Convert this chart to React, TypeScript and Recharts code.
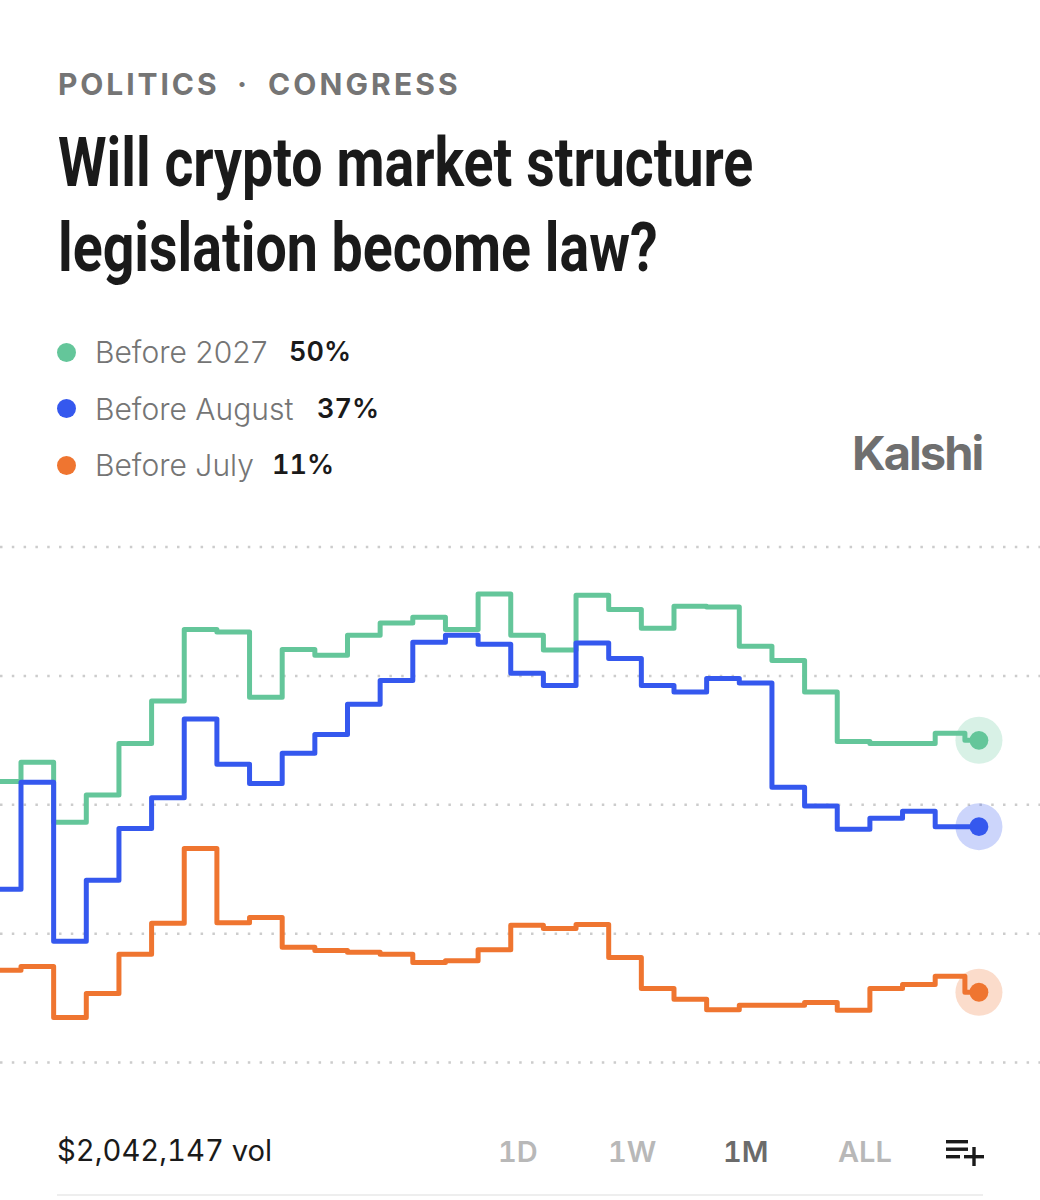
import React from 'react';
import { LineChart, Line, XAxis, YAxis, CartesianGrid, ReferenceDot } from 'recharts';

const GREEN = '#64C69A';
const BLUE = '#3558EE';
const ORANGE = '#EF7530';

const steps = [
  0, 1, 2, 3, 4, 5, 6, 7, 8, 9, 10, 11, 12, 13, 14, 15, 16, 17, 18, 19, 20, 21, 22, 23, 24, 25, 26, 27, 28, 29, 29.91, 30.34,
];
const before2027 = [
  43.6, 46.6, 37.3, 41.5, 49.5, 56.1, 67.2, 66.8, 56.7, 64.1, 63.2, 66.3, 68.2, 69.1, 67.2, 72.7, 66.3, 64.0, 72.5, 70.3,
  67.4, 70.8, 70.7, 64.6, 62.4, 57.5, 49.8, 49.5, 49.5, 51.1, 50.0, 50.0,
];
const beforeAugust = [
  26.9, 43.5, 18.8, 28.3, 36.3, 41.1, 53.3, 46.3, 43.3, 48.0, 50.9, 55.6, 59.3, 65.2, 66.3, 64.9, 60.4, 58.5, 65.1, 62.7,
  58.5, 57.5, 59.6, 58.9, 42.7, 39.8, 36.2, 37.9, 39.0, 36.6, 36.6, 36.6,
];
const beforeJuly = [
  14.3, 14.9, 7.0, 10.7, 16.8, 21.6, 33.2, 21.7, 22.5, 17.9, 17.4, 17.1, 16.8, 15.5, 15.8, 17.5, 21.3, 20.8, 21.4, 16.3,
  11.5, 9.8, 8.2, 8.9, 8.9, 9.3, 8.1, 11.5, 12.1, 13.4, 10.9, 10.9,
];
const gridValues = [0, 20, 40, 60, 80];
const rangeLabels = ['1D', '1W', '1M', 'ALL'];

const chartData = steps.map((step, i) => ({
  step,
  before2027: before2027[i],
  beforeAugust: beforeAugust[i],
  beforeJuly: beforeJuly[i],
}));

const legendItems = [
  { name: 'Before 2027', value: '50%', color: GREEN, top: 352, valueLeft: 289 },
  { name: 'Before August', value: '37%', color: BLUE, top: 408.5, valueLeft: 317 },
  { name: 'Before July', value: '11%', color: ORANGE, top: 465, valueLeft: 272 },
];
const rangeLefts = [498, 608, 723, 838];

const lastIndex = steps.length - 1;

const endDot = (color: string) => (props: any) =>
  props.index === lastIndex ? (
    <circle key={props.index} cx={props.cx} cy={props.cy} r={9.4} fill={color} />
  ) : (
    <g key={props.index} />
  );

const text = (top: number, left: number, extra: React.CSSProperties): React.CSSProperties => ({
  position: 'absolute',
  top,
  left,
  lineHeight: 1,
  whiteSpace: 'nowrap',
  ...extra,
});

const titleStyle: React.CSSProperties = {
  fontFamily: 'Roboto',
  fontSize: 68,
  fontWeight: 700,
  color: '#1a1a1a',
  transform: 'scaleX(0.816)',
  transformOrigin: 'left top',
};

export default function App() {
  return (
    <div style={{ position: 'absolute', top: 0, left: 0, width: 1040, height: 1200, background: '#fff', overflow: 'hidden', fontFamily: 'Inter', fontVariantNumeric: 'tabular-nums' }}>
      <div style={text(69, 58, { fontSize: 30, fontWeight: 700, color: '#757575', letterSpacing: 2.9 })}>
        POLITICS
      </div>
      <div style={text(69, 237, { fontSize: 30, fontWeight: 700, color: '#757575' })}>·</div>
      <div style={text(69, 268, { fontSize: 30, fontWeight: 700, color: '#757575', letterSpacing: 3.1 })}>
        CONGRESS
      </div>

      <div style={text(129, 58, titleStyle)}>Will crypto market structure</div>
      <div style={text(214, 58, titleStyle)}>legislation become law?</div>

      {legendItems.map((item) => (
        <React.Fragment key={item.name}>
          <div style={{ position: 'absolute', left: 56.5, top: item.top - 9.5, width: 19, height: 19, borderRadius: '50%', background: item.color }} />
          <div style={text(item.top - 15, 95, { fontSize: 30, fontWeight: 300, color: '#757575', fontVariantNumeric: 'normal' })}>{item.name}</div>
          <div style={text(item.top - 14, item.valueLeft, { fontSize: 27, fontWeight: 600, color: '#1a1a1a' })}>{item.value}</div>
        </React.Fragment>
      ))}

      <div style={text(429, 852, { fontSize: 47, fontWeight: 700, color: '#6f6f6f', letterSpacing: -2 })}>Kalshi</div>

      <div style={{ position: 'absolute', top: 527, left: 0 }}>
        <LineChart width={1040} height={555} data={chartData} margin={{ top: 20, right: 0, bottom: 19.5, left: 0 }}>
          <CartesianGrid
            vertical={false}
            horizontalValues={gridValues}
            stroke="#cccccc"
            strokeWidth={2.5}
            strokeDasharray="2.5 9.3"
          />
          <XAxis dataKey="step" type="number" domain={[0.357, 32.21]} allowDataOverflow hide />
          <YAxis type="number" domain={[0, 80]} ticks={gridValues} hide />
          <ReferenceDot x={30.34} y={50} r={23.5} fill={GREEN} fillOpacity={0.25} stroke="none" />
          <ReferenceDot x={30.34} y={36.6} r={23.5} fill={BLUE} fillOpacity={0.25} stroke="none" />
          <ReferenceDot x={30.34} y={10.9} r={23.5} fill={ORANGE} fillOpacity={0.25} stroke="none" />
          <Line dataKey="before2027" type="stepAfter" stroke={GREEN} strokeWidth={5} strokeLinejoin="round" dot={endDot(GREEN)} activeDot={false} isAnimationActive={false} />
          <Line dataKey="beforeAugust" type="stepAfter" stroke={BLUE} strokeWidth={5} strokeLinejoin="round" dot={endDot(BLUE)} activeDot={false} isAnimationActive={false} />
          <Line dataKey="beforeJuly" type="stepAfter" stroke={ORANGE} strokeWidth={5} strokeLinejoin="round" dot={endDot(ORANGE)} activeDot={false} isAnimationActive={false} />
        </LineChart>
      </div>

      <div style={text(1136, 57, { fontSize: 29.2, fontWeight: 400, color: '#1a1a1a' })}>$2,042,147 vol</div>
      {rangeLabels.map((label, i) => (
        <div key={label} style={text(1137, rangeLefts[i], { fontSize: 29, fontWeight: 600, color: label === '1M' ? '#6b6b6b' : '#b8b8b8' })}>
          {label}
        </div>
      ))}
      <svg width={42} height={30} style={{ position: 'absolute', left: 945, top: 1138 }}>
        <rect x={1} y={2} width={22} height={3.4} fill="#1a1a1a" />
        <rect x={1} y={9.5} width={22} height={3.4} fill="#1a1a1a" />
        <rect x={1} y={17} width={14} height={3.4} fill="#1a1a1a" />
        <rect x={19} y={17} width={20} height={3.4} fill="#1a1a1a" />
        <rect x={27.3} y={9} width={3.4} height={19} fill="#1a1a1a" />
      </svg>
      <div style={{ position: 'absolute', left: 57, top: 1194, width: 926, height: 2, background: '#eeeeee' }} />
    </div>
  );
}
